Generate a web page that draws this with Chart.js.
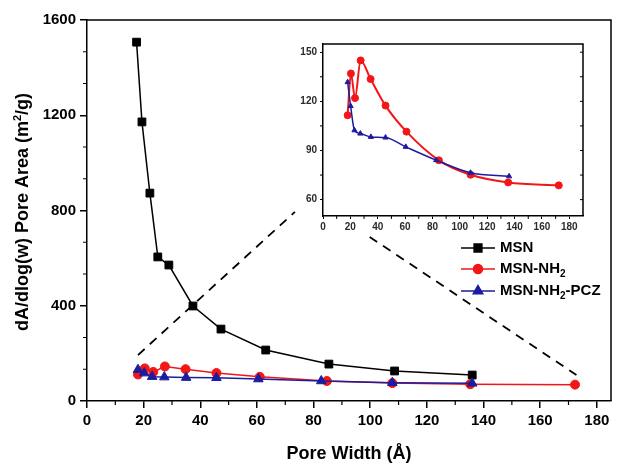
<!DOCTYPE html>
<html><head><meta charset="utf-8">
<script src="https://cdn.jsdelivr.net/npm/chart.js@4.4.0/dist/chart.umd.min.js"></script>
<style>
html,body{margin:0;padding:0;background:#fff;}
#wrap{position:relative;width:619px;height:464px;overflow:hidden;background:#fff;}
#main{position:absolute;left:0;top:0;}
#inset{position:absolute;left:280px;top:35px;}
</style></head><body>
<div id="wrap"><canvas id="main" width="619" height="464"></canvas><canvas id="inset" width="310" height="200"></canvas></div>
<script>
// ---- data ----
const poreWidthMSN = [17.5, 19.4, 22.2, 25.0, 28.9, 37.4, 47.3, 63.1, 85.4, 108.6, 136.0];
const areaMSN      = [1507, 1172, 873, 605, 571, 399, 302, 214, 155, 126, 109];
const poreWidthNH2 = [18.0, 20.4, 23.4, 27.5, 34.8, 45.7, 61.0, 84.7, 107.8, 135.3, 172.3];
const areaNH2      = [111.5, 137, 122, 145, 133.6, 117.4, 101.5, 84, 75.2, 70.5, 68.7];
const poreWidthPCZ = [18.0, 20.2, 23.0, 27.3, 35.0, 45.7, 60.5, 82.7, 107.8, 136.0];
const areaPCZ      = [131.7, 117.1, 102.3, 100.3, 98.3, 97.9, 92.2, 84.1, 76.4, 74.2];
const seriesNames  = ['MSN', 'MSN-NH2', 'MSN-NH2-PCZ'];
const mainXTicks   = [0, 20, 40, 60, 80, 100, 120, 140, 160, 180];
const mainYTicks   = [0, 400, 800, 1200, 1600];
const insetXTicks  = [0, 20, 40, 60, 80, 100, 120, 140, 160, 180];
const insetYTicks  = [60, 90, 120, 150];
const zoomLinesX   = [[18, 73.4], [99.8, 172.8]];
const zoomLinesY   = [[193, 794], [689, 109]];

const BLACK = '#000000', RED = '#f21616', BLUE = '#1c1c9e';
const FONT = '"Liberation Sans", Arial, sans-serif';
const pts = (xs, ys) => xs.map((v, i) => ({x: v, y: ys[i]}));
const plain = v => String(v);

function ds(label, xs, ys, color, style, r, bw, order, tension) {
  return {label, data: pts(xs, ys), showLine: true, borderColor: color, backgroundColor: color,
    pointStyle: style, pointRadius: r, pointHoverRadius: r, borderWidth: bw, pointBorderWidth: 1,
    order, tension: tension || 0, cubicInterpolationMode: tension ? 'monotone' : 'default'};
}

function minorTicks(ctx, scale, vals, len, dir, horiz) {
  ctx.beginPath();
  vals.forEach(v => {
    if (horiz) { const p = scale.getPixelForValue(v); ctx.moveTo(p, scale.top); ctx.lineTo(p, scale.top + dir * len); }
    else { const p = scale.getPixelForValue(v); ctx.moveTo(scale.right, p); ctx.lineTo(scale.right + dir * len, p); }
  });
  ctx.stroke();
}

function legendText(ctx, x, y, name, size) {
  const parts = name.split('NH2');
  ctx.textBaseline = 'middle';
  ctx.textAlign = 'left';
  let cx = x;
  parts.forEach((p, i) => {
    if (i > 0) {
      ctx.font = 'bold ' + size + 'px ' + FONT; ctx.fillText('NH', cx, y); cx += ctx.measureText('NH').width;
      ctx.font = 'bold ' + Math.round(size * 0.68) + 'px ' + FONT; ctx.fillText('2', cx, y + 5); cx += ctx.measureText('2').width;
    }
    ctx.font = 'bold ' + size + 'px ' + FONT; ctx.fillText(p, cx, y); cx += ctx.measureText(p).width;
  });
}

const mainDeco = {
  id: 'mainDeco',
  beforeDatasetsDraw(chart) {
    const {ctx, scales: {x, y}} = chart;
    ctx.save();
    ctx.strokeStyle = '#000'; ctx.lineWidth = 1.8; ctx.setLineDash([9, 7]);
    zoomLinesX.forEach((lx, i) => {
      ctx.beginPath();
      ctx.moveTo(x.getPixelForValue(lx[0]), y.getPixelForValue(zoomLinesY[i][0]));
      ctx.lineTo(x.getPixelForValue(lx[1]), y.getPixelForValue(zoomLinesY[i][1]));
      ctx.stroke();
    });
    ctx.restore();
  },
  afterDraw(chart) {
    const {ctx, chartArea: a, scales: {x, y}} = chart;
    ctx.save();
    ctx.strokeStyle = '#000'; ctx.lineWidth = 1.5;
    ctx.beginPath(); ctx.moveTo(a.left, a.top); ctx.lineTo(a.right, a.top); ctx.lineTo(a.right, a.bottom); ctx.stroke();
    ctx.lineWidth = 1.2;
    const xm = []; for (let v = 10; v < 185; v += 20) xm.push(v);
    minorTicks(ctx, x, xm, 4, 1, true);
    const ym = []; for (let k = 1; k < 12; k++) if (k % 3) ym.push(k * 400 / 3);
    minorTicks(ctx, y, ym, -4, 1, false);
    ctx.fillStyle = '#000';
    ctx.font = 'bold 18px ' + FONT; ctx.textAlign = 'center'; ctx.textBaseline = 'middle';
    ctx.fillText('Pore Width (\u00C5)', (a.left + a.right) / 2, 454);
    ctx.save(); ctx.translate(23, 212); ctx.rotate(-Math.PI / 2);
    ctx.textAlign = 'left';
    const t1 = 'dA/dlog(w) Pore Area (m', t2 = '2', t3 = '/g)';
    ctx.font = 'bold 18px ' + FONT; const w1 = ctx.measureText(t1).width, w3 = ctx.measureText(t3).width;
    ctx.font = 'bold 11px ' + FONT; const w2 = ctx.measureText(t2).width;
    let sx = -(w1 + w2 + w3) / 2;
    ctx.font = 'bold 18px ' + FONT; ctx.fillText(t1, sx, 0); sx += w1;
    ctx.font = 'bold 11px ' + FONT; ctx.fillText(t2, sx, -5); sx += w2;
    ctx.font = 'bold 18px ' + FONT; ctx.fillText(t3, sx, 0);
    ctx.restore();
    const rows = [248, 269, 291];
    const styles = [['rect', BLACK, 5.5], ['circle', RED, 4.5], ['triangle', BLUE, 5.5]];
    rows.forEach((ry, i) => {
      const [st, col, r] = styles[i];
      ctx.strokeStyle = col; ctx.fillStyle = col; ctx.lineWidth = 1.5;
      ctx.beginPath(); ctx.moveTo(461, ry); ctx.lineTo(495, ry); ctx.stroke();
      Chart.helpers.drawPoint(ctx, {pointStyle: st, radius: r, borderWidth: 1}, 478, ry);
      ctx.fillStyle = '#000';
      legendText(ctx, 500, ry, seriesNames[i], 15);
    });
    ctx.restore();
  }
};

new Chart(document.getElementById('main'), {
  type: 'scatter',
  data: {datasets: [
    ds(seriesNames[0], poreWidthMSN, areaMSN, BLACK, 'rect', 5.5, 1.5, 2),
    ds(seriesNames[1], poreWidthNH2, areaNH2, RED, 'circle', 4.5, 1.5, 1),
    ds(seriesNames[2], poreWidthPCZ, areaPCZ, BLUE, 'triangle', 5.5, 1.5, 0)
  ]},
  options: {
    responsive: false, animation: false, devicePixelRatio: 1,
    layout: {padding: {left: 0, top: 20, right: 8, bottom: 0}},
    plugins: {legend: {display: false}, tooltip: {enabled: false}},
    scales: {
      x: {type: 'linear', min: 0, max: 185,
        afterBuildTicks: s => { s.ticks = mainXTicks.map(v => ({value: v})); },
        afterFit: s => { s.height = 63; },
        grid: {drawOnChartArea: false, drawTicks: true, tickLength: 7, color: '#000', lineWidth: 1.5},
        border: {color: '#000', width: 1.5},
        ticks: {color: '#000', font: {family: FONT, size: 15, weight: 'bold'}, padding: 4, maxRotation: 0, callback: plain}},
      y: {type: 'linear', min: 0, max: 1600,
        afterBuildTicks: s => { s.ticks = mainYTicks.map(v => ({value: v})); },
        afterFit: s => { s.width = 87; },
        grid: {drawOnChartArea: false, drawTicks: true, tickLength: 7, color: '#000', lineWidth: 1.5},
        border: {color: '#000', width: 1.5},
        ticks: {color: '#000', font: {family: FONT, size: 15, weight: 'bold'}, padding: 4, callback: plain}}
    }
  },
  plugins: [mainDeco]
});

const insetDeco = {
  id: 'insetDeco',
  afterDraw(chart) {
    const {ctx, chartArea: a, scales: {x, y}} = chart;
    ctx.save();
    ctx.strokeStyle = '#000'; ctx.lineWidth = 1.5;
    ctx.beginPath(); ctx.moveTo(a.left, a.top); ctx.lineTo(a.right, a.top); ctx.lineTo(a.right, a.bottom); ctx.stroke();
    ctx.lineWidth = 1;
    const xm = []; for (let v = 10; v < 190; v += 20) xm.push(v);
    minorTicks(ctx, x, xm, 3, 1, true);
    const ym = [75, 105, 135];
    minorTicks(ctx, y, ym, -3, 1, false);
    ctx.beginPath();
    insetYTicks.concat(ym).forEach(v => { const p = y.getPixelForValue(v); ctx.moveTo(a.right, p); ctx.lineTo(a.right - 3, p); });
    ctx.stroke();
    ctx.restore();
  }
};

new Chart(document.getElementById('inset'), {
  type: 'scatter',
  data: {datasets: [
    ds(seriesNames[1], poreWidthNH2, areaNH2, RED, 'circle', 3.5, 2, 1, 0.4),
    ds(seriesNames[2], poreWidthPCZ, areaPCZ, BLUE, 'triangle', 3, 1.5, 0, 0.2)
  ]},
  options: {
    responsive: false, animation: false, devicePixelRatio: 1,
    layout: {padding: {left: 0, top: 8, right: 7, bottom: 0}},
    plugins: {legend: {display: false}, tooltip: {enabled: false}},
    scales: {
      x: {type: 'linear', min: 0, max: 190,
        afterBuildTicks: s => { s.ticks = insetXTicks.map(v => ({value: v})); },
        afterFit: s => { s.height = 19; },
        grid: {drawOnChartArea: false, drawTicks: true, tickLength: 3, color: '#000', lineWidth: 1},
        border: {color: '#000', width: 1.5},
        ticks: {color: '#2a2a2a', font: {family: FONT, size: 10, weight: 'bold'}, padding: 2, maxRotation: 0, callback: plain}},
      y: {type: 'linear', min: 50, max: 155,
        afterBuildTicks: s => { s.ticks = insetYTicks.map(v => ({value: v})); },
        afterFit: s => { s.width = 43; },
        grid: {drawOnChartArea: false, drawTicks: true, tickLength: 3, color: '#000', lineWidth: 1},
        border: {color: '#000', width: 1.5},
        ticks: {color: '#2a2a2a', font: {family: FONT, size: 10, weight: 'bold'}, padding: 3, callback: plain}}
    }
  },
  plugins: [insetDeco]
});
</script>
</body></html>
